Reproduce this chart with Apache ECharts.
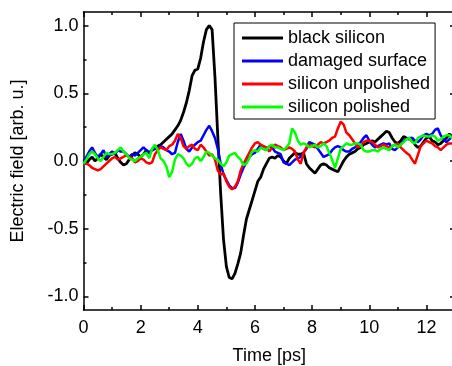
<!DOCTYPE html>
<html>
<head>
<meta charset="utf-8">
<script src="https://cdn.jsdelivr.net/npm/echarts@6/dist/echarts.min.js"></script>
<style>
  html, body { margin: 0; padding: 0; background: #fff; }
  #chart { width: 452px; height: 366px; }
</style>
</head>
<body>
<div id="chart"></div>
<script>
// time axis sampled every 0.1 ps, 0 .. 13 ps
const timeStep = 0.1
const seriesNames = ['black silicon', 'damaged surface', 'silicon unpolished', 'silicon polished']
const seriesColors = ['#000000', '#0000ff', '#ff0000', '#00ff00']

const blackSilicon = [
    0.00, -0.02, 0.01, 0.03, 0.00, 0.02, 0.05, 0.03, 0.01, 0.04,
    0.05, 0.06, 0.02, -0.01, -0.03, -0.02, 0.01, 0.04, 0.06, 0.05,
    0.03, 0.05, 0.08, 0.06, 0.08, 0.09, 0.11, 0.12, 0.14, 0.16,
    0.18, 0.20, 0.23, 0.26, 0.30, 0.36, 0.43, 0.52, 0.63, 0.67,
    0.68, 0.76, 0.88, 0.97, 1.00, 0.97, 0.62, 0.18, -0.24, -0.58,
    -0.78, -0.86, -0.87, -0.83, -0.76, -0.68, -0.55, -0.43, -0.36, -0.29,
    -0.22, -0.15, -0.12, -0.06, -0.02, 0.02, 0.03, 0.02, 0.04, 0.03,
    0.00, -0.02, 0.02, 0.04, 0.06, 0.05, 0.05, 0.06, -0.02, -0.05,
    -0.07, -0.09, -0.06, -0.03, -0.02, -0.03, -0.05, -0.06, -0.07, -0.08,
    -0.04, 0.00, 0.03, 0.05, 0.06, 0.07, 0.09, 0.10, 0.12, 0.13,
    0.14, 0.15, 0.14, 0.16, 0.18, 0.20, 0.22, 0.21, 0.17, 0.14,
    0.13, 0.15, 0.18, 0.17, 0.16, 0.17, 0.12, 0.10, 0.11, 0.14,
    0.17, 0.18, 0.15, 0.14, 0.12, 0.13, 0.15, 0.17, 0.20, 0.18,
    0.16
]
const damagedSurface = [
    0.00, 0.03, 0.07, 0.10, 0.06, 0.03, 0.05, 0.08, 0.03, 0.05,
    0.07, 0.05, 0.08, 0.07, 0.07, 0.05, 0.03, 0.05, 0.04, 0.06,
    0.08, 0.10, 0.08, 0.06, 0.08, 0.10, 0.09, 0.11, 0.10, 0.08,
    0.07, 0.05, 0.06, 0.14, 0.20, 0.15, 0.09, 0.07, 0.10, 0.12,
    0.14, 0.15, 0.19, 0.23, 0.26, 0.22, 0.17, 0.09, -0.02, -0.10,
    -0.14, -0.18, -0.20, -0.20, -0.16, -0.10, -0.05, -0.01, 0.03, 0.05,
    0.06, 0.09, 0.12, 0.09, 0.08, 0.11, 0.10, 0.07, 0.06, 0.05,
    -0.01, -0.02, -0.03, -0.01, 0.01, 0.02, 0.03, 0.06, 0.09, 0.14,
    0.13, 0.12, 0.09, 0.06, 0.03, 0.04, 0.05, 0.08, 0.10, 0.11,
    0.10, 0.08, 0.07, 0.07, 0.09, 0.10, 0.12, 0.14, 0.17, 0.19,
    0.15, 0.12, 0.10, 0.11, 0.12, 0.13, 0.12, 0.13, 0.09, 0.08,
    0.10, 0.12, 0.15, 0.16, 0.17, 0.17, 0.15, 0.14, 0.16, 0.19,
    0.20, 0.19, 0.20, 0.23, 0.24, 0.19, 0.16, 0.14, 0.16, 0.18,
    0.19
]
const siliconUnpolished = [
    -0.01, -0.02, -0.03, -0.05, -0.06, -0.07, -0.06, -0.04, -0.02, 0.00,
    0.02, 0.03, 0.01, 0.02, 0.03, 0.045, 0.03, 0.02, -0.01, 0.00,
    0.02, 0.01, -0.01, -0.02, -0.01, 0.05, 0.08, 0.10, 0.09, 0.08,
    0.11, 0.12, 0.15, 0.20, 0.17, 0.11, 0.09, 0.11, 0.12, 0.09,
    0.08, 0.12, 0.10, 0.07, 0.04, 0.05, 0.01, -0.07, -0.10, -0.09,
    -0.15, -0.19, -0.21, -0.19, -0.15, -0.07, -0.02, 0.02, 0.06, 0.10,
    0.13, 0.14, 0.12, 0.11, 0.10, 0.07, 0.10, 0.12, 0.11, 0.10,
    0.08, 0.09, 0.10, 0.09, 0.07, 0.01, -0.02, 0.06, 0.10, 0.12,
    0.11, 0.10, 0.12, 0.14, 0.13, 0.14, 0.15, 0.17, 0.18, 0.24,
    0.29, 0.27, 0.21, 0.19, 0.16, 0.13, 0.10, 0.11, 0.14, 0.15,
    0.15, 0.14, 0.12, 0.10, 0.11, 0.12, 0.11, 0.10, 0.11, 0.12,
    0.13, 0.10, 0.08, 0.06, 0.045, 0.01, -0.02, 0.045, 0.11, 0.13,
    0.15, 0.14, 0.13, 0.11, 0.10, 0.08, 0.10, 0.12, 0.13, 0.13,
    0.12
]
const siliconPolished = [
    -0.02, 0.01, 0.05, 0.07, 0.05, 0.02, 0.00, 0.03, 0.06, 0.05,
    0.05, 0.06, 0.08, 0.10, 0.07, 0.05, 0.02, 0.01, 0.00, 0.02,
    0.03, 0.05, 0.06, 0.02, 0.09, 0.12, 0.08, 0.02, 0.00, -0.04,
    -0.12, -0.08, 0.01, 0.05, 0.04, 0.02, -0.02, -0.04, -0.02, 0.02,
    0.03, 0.00, 0.03, 0.07, 0.06, 0.04, 0.02, 0.01, -0.02, -0.04,
    -0.01, 0.04, 0.05, 0.06, 0.03, 0.01, -0.03, -0.02, 0.02, 0.07,
    0.08, 0.07, 0.10, 0.09, 0.08, 0.11, 0.12, 0.10, 0.10, 0.09,
    0.08, 0.10, 0.13, 0.24, 0.21, 0.15, 0.12, 0.13, 0.12, 0.10,
    0.11, 0.12, 0.10, 0.11, 0.13, 0.11, 0.06, 0.01, -0.05, 0.02,
    0.09, 0.11, 0.13, 0.12, 0.12, 0.13, 0.13, 0.12, 0.08, 0.07,
    0.07, 0.08, 0.08, 0.07, 0.09, 0.10, 0.09, 0.08, 0.11, 0.12,
    0.10, 0.12, 0.14, 0.16, 0.17, 0.14, 0.13, 0.17, 0.18, 0.19,
    0.18, 0.18, 0.19, 0.18, 0.15, 0.16, 0.18, 0.19, 0.19, 0.17,
    0.15
]

const xMajorTicks = [0, 2, 4, 6, 8, 10, 12]
const xMinorTicks = [1, 3, 5, 7, 9, 11]
const yMajorTicks = [-1.0, -0.5, 0.0, 0.5, 1.0]
const yMinorTicks = [-0.75, -0.25, 0.25, 0.75]

const allValues = [blackSilicon, damagedSurface, siliconUnpolished, siliconPolished]
const times = blackSilicon.map((_, i) => +(i * timeStep).toFixed(1))

const font = 'Liberation Sans'
const axisColor = '#000'

function makeAxis(kind, position, ticks, tickLen, withLine, withLabels) {
    const isX = kind === 'x'
    return {
        type: 'value',
        position: position,
        min: isX ? 0 : -1.1,
        max: isX ? 13 : 1.1,
        gridIndex: 0,
        splitLine: { show: false },
        axisLine: { show: withLine, onZero: false, lineStyle: { color: axisColor, width: 1.5 } },
        axisTick: {
            show: true,
            inside: true,
            length: tickLen,
            customValues: ticks,
            lineStyle: { color: axisColor, width: 1.5 }
        },
        axisLabel: withLabels ? {
            show: true,
            customValues: ticks,
            color: '#000',
            fontFamily: font,
            fontSize: 18,
            margin: isX ? 9 : 5,
            formatter: (v) => isX ? String(v) : v.toFixed(1)
        } : { show: false }
    }
}

const chart = echarts.init(document.getElementById('chart'), null, { renderer: 'canvas' })

chart.setOption({
    animation: false,
    backgroundColor: '#fff',
    grid: { left: 83.5, top: 12, right: -3, bottom: 56, containLabel: false, outerBoundsMode: 'none' },
    legend: {
        data: seriesNames,
        orient: 'vertical',
        left: 234,
        top: 23,
        backgroundColor: '#fff',
        borderColor: '#000',
        borderWidth: 1,
        borderRadius: 0,
        padding: [6, 5, 3, 8],
        itemGap: 5,
        itemWidth: 41,
        itemHeight: 14,
        icon: 'path://M0,0H41V3H0Z',
        textStyle: { fontFamily: font, fontSize: 18, color: '#000', lineHeight: 18 }
    },
    xAxis: [
        Object.assign(makeAxis('x', 'bottom', xMajorTicks, 5, true, true), {
            name: 'Time [ps]',
            nameLocation: 'middle',
            nameGap: 37,
            nameTextStyle: { fontFamily: font, fontSize: 18, color: '#000' }
        }),
        makeAxis('x', 'bottom', xMinorTicks, 3, false, false),
        makeAxis('x', 'top', xMajorTicks, 5, true, false),
        makeAxis('x', 'top', xMinorTicks, 3, false, false)
    ],
    yAxis: [
        Object.assign(makeAxis('y', 'left', yMajorTicks, 5, true, true), {
            name: 'Electric field [arb. u.]',
            nameLocation: 'middle',
            nameGap: 56,
            nameTextStyle: { fontFamily: font, fontSize: 18, color: '#000' }
        }),
        makeAxis('y', 'left', yMinorTicks, 3, false, false),
        makeAxis('y', 'right', yMajorTicks, 5, true, false),
        makeAxis('y', 'right', yMinorTicks, 3, false, false)
    ],
    series: seriesNames.map((name, k) => ({
        name: name,
        type: 'line',
        xAxisIndex: 0,
        yAxisIndex: 0,
        symbol: 'none',
        color: seriesColors[k],
        lineStyle: { color: seriesColors[k], width: k === 0 ? 2.8 : 2.5 },
        data: times.map((t, i) => [t, allValues[k][i]])
    }))
})
</script>
</body>
</html>
